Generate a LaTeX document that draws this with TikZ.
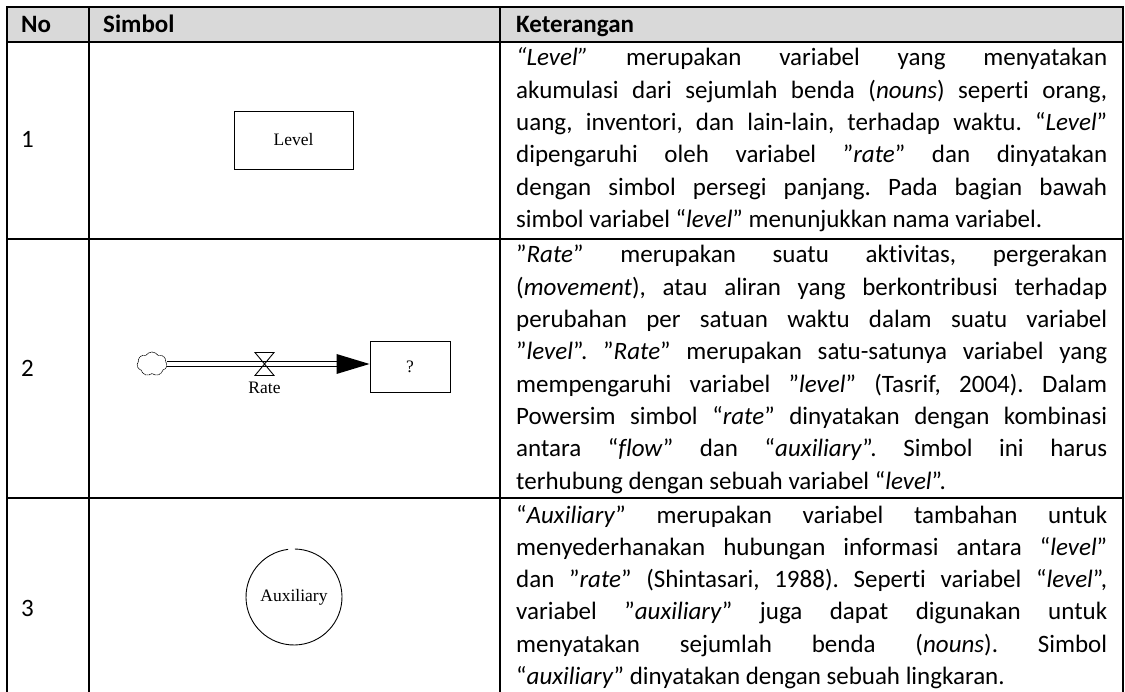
\documentclass[tikz,border=0pt]{standalone}
\usepackage{fontspec}
\setmainfont[Ligatures={NoCommon,TeX}]{Carlito}
\newfontfamily\symfont{Liberation Serif}
\usetikzlibrary{shapes.symbols,calc}
\definecolor{hdrgray}{HTML}{D9D9D9}
\frenchspacing
\newcommand\jline[1]{\hbox to\linewidth{#1}}
\newcommand\lline[1]{\hbox{#1}}
\newcommand\bodyfont{\fontsize{25}{32.3}\selectfont}
\begin{document}
\begin{tikzpicture}[x=1pt,y=-1pt,
  gridline/.style={line width=1.8pt, line cap=rect},
  body/.style={anchor=base west, inner sep=0pt, font=\bodyfont},
  hdr/.style={anchor=base west, inner sep=0pt, font=\bodyfont\bfseries},
  sym/.style={font=\symfont\fontsize{17.5}{20}\selectfont, inner sep=0pt},
  symline/.style={line width=0.9pt}]
\useasboundingbox (0,0) rectangle (1125,692);
% header fill
\fill[hdrgray] (7,7) rectangle (1123,42);
% grid
\draw[gridline] (7,7) -- (1123,7);
\draw[gridline] (7,42) -- (1123,42);
\draw[gridline] (7,239) -- (1123,239);
\draw[gridline] (7,498) -- (1123,498);
\draw[gridline] (7,7) -- (7,700);
\draw[gridline] (89,7) -- (89,700);
\draw[gridline] (500,7) -- (500,700);
\draw[gridline] (1123,7) -- (1123,700);
% header
\node[hdr] (hno) at (21,33) {No};
\node[hdr] (hsym) at (103,33) {Simbol};
\node[hdr] (hket) at (516,33) {Keterangan};
% numbers
\node[body] (n1) at (21,148) {1};
\node[body] (n2) at (21,377) {2};
\node[body] (n3) at (21,616) {3};
% descriptions
\node[body] (t1) at (516,66) {\parbox[t]{591pt}{\bodyfont
\jline{\textit{“Level”} merupakan variabel yang menyatakan}
\jline{akumulasi dari sejumlah benda (\textit{nouns}) seperti orang,}
\jline{uang, inventori, dan lain-lain, terhadap waktu. “\textit{Level}”}
\jline{dipengaruhi oleh variabel ”\textit{rate}” dan dinyatakan}
\jline{dengan simbol persegi panjang. Pada bagian bawah}
\lline{simbol variabel “\textit{level}” menunjukkan nama variabel.}}};
\node[body] (t2) at (516,263) {\parbox[t]{591pt}{\bodyfont
\jline{”\textit{Rate}” merupakan suatu aktivitas, pergerakan}
\jline{(\textit{movement}), atau aliran yang berkontribusi terhadap}
\jline{perubahan per satuan waktu dalam suatu variabel}
\jline{”\textit{level}”. ”\textit{Rate}” merupakan satu-satunya variabel yang}
\jline{mempengaruhi variabel ”\textit{level}” (Tasrif, 2004). Dalam}
\jline{Powersim simbol “\textit{rate}” dinyatakan dengan kombinasi}
\jline{antara “\textit{flow}” dan “\textit{auxiliary}”. Simbol ini harus}
\lline{terhubung dengan sebuah variabel “\textit{level}”.}}};
\node[body] (t3) at (516,523) {\parbox[t]{591pt}{\bodyfont
\jline{“\textit{Auxiliary}” merupakan variabel tambahan untuk}
\jline{menyederhanakan hubungan informasi antara “\textit{level}”}
\jline{dan ”\textit{rate}” (Shintasari, 1988). Seperti variabel “\textit{level}”,}
\jline{variabel ”\textit{auxiliary}” juga dapat digunakan untuk}
\jline{menyatakan sejumlah benda (\textit{nouns}). Simbol}
\lline{“\textit{auxiliary}” dinyatakan dengan sebuah lingkaran.}}};
% symbol 1: level
\node[draw, symline, sym, minimum width=119pt, minimum height=58pt] (lvl) at (293.5,140) {Level};
% symbol 2: rate
\node[cloud, cloud puffs=7, cloud puff arc=115, aspect=1.25, draw, line width=0.6pt,
      dash pattern=on 1.6pt off 0.5pt, minimum width=30pt, minimum height=24pt, inner sep=0pt] (src) at (152,364) {};
\node[draw, symline, sym, minimum width=80pt, minimum height=51pt] (stk) at (410,366.5) {?};
\coordinate (tip) at (src.east -| stk.west);
\coordinate (ab) at ([xshift=-33pt]tip);
\coordinate (valve) at (264.5,364);
\draw[line width=0.9pt, double=white, double distance=4.6pt] (src.east) -- (ab);
\fill ([yshift=10pt]ab) -- (tip) -- ([yshift=-10pt]ab) -- cycle;
\draw[symline, line join=miter] ($(valve)+(-9.5,-11.5)$) -- ($(valve)+(9.5,-11.5)$) -- (valve) -- cycle;
\draw[symline, line join=miter] ($(valve)+(-9.5,11.5)$) -- ($(valve)+(9.5,11.5)$) -- (valve) -- cycle;
\node[sym, anchor=base] (ratelbl) at (264.5,394) {Rate};
% symbol 3: auxiliary
\node[sym, circle, minimum size=96pt] (aux) at (294,597) {Auxiliary};
\draw[line width=0.9pt] ([shift={(97:48pt)}]aux.center) arc[start angle=97, end angle=449, radius=48pt];
\end{tikzpicture}
\end{document}
